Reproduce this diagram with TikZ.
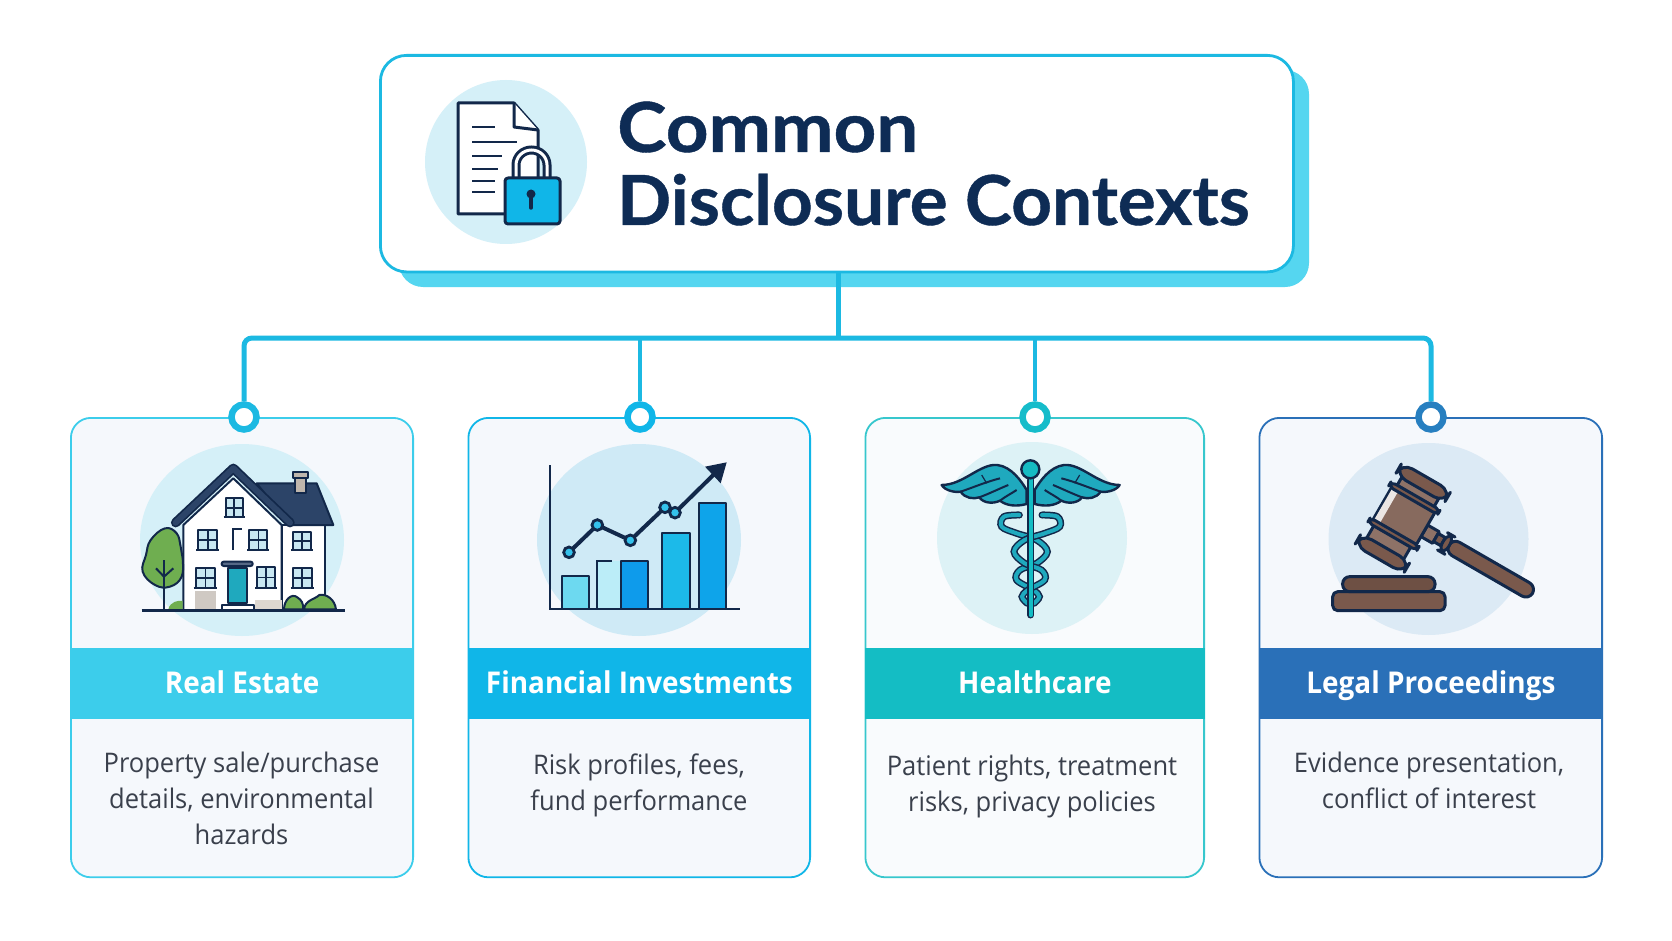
\documentclass[tikz,border=0pt]{standalone}
\usepackage{fontspec}
\setmainfont{Open Sans}[FakeStretch=0.945]
\newfontfamily\titlefont{Lato}[FakeBold=0.6,FakeStretch=1.03]
\newfontfamily\titlefontB{Lato}[FakeBold=0.6,FakeStretch=1.08]
\newfontfamily\labelfont{Open Sans}[FakeStretch=0.93]
\usetikzlibrary{calc}
\definecolor{ink}{HTML}{12284A}
\definecolor{titleink}{HTML}{0E2C55}
\definecolor{bodyink}{HTML}{3A404C}
\definecolor{cardfill}{HTML}{F5F8FC}
\definecolor{cardfillC}{HTML}{F9FBFD}
\definecolor{cA}{HTML}{3CCDEB}
\definecolor{cB}{HTML}{10B6E8}
\definecolor{cC}{HTML}{14BDC4}
\definecolor{cD}{HTML}{2A70B8}
\definecolor{circA}{HTML}{D5F0F8}
\definecolor{circB}{HTML}{CFEAF6}
\definecolor{circC}{HTML}{DDF2F6}
\definecolor{circD}{HTML}{DCEAF5}
\definecolor{conn}{HTML}{1CB9E2}
\definecolor{offsetcol}{HTML}{55D6F0}
\definecolor{navy}{HTML}{2C4468}
\definecolor{leaf}{HTML}{6FAE50}
\definecolor{glass}{HTML}{C9E8F2}
\definecolor{teal}{HTML}{1FA9BE}
\definecolor{wood}{HTML}{7A594C}
\tikzset{
  cardbox/.style={draw=#1,line width=1.8pt,rounded corners=20pt,inner sep=0pt},
  bandbox/.style={fill=#1,inner sep=0pt,text=white,text height=21pt,text depth=2pt,font=\labelfont\bfseries\fontsize{30}{30}\selectfont},
  bodytext/.style={text=bodyink,align=center,inner sep=0pt,font=\fontsize{27}{36}\selectfont},
  ringnode/.style={circle,draw=#1,fill=white,line width=6.5pt,minimum size=25pt,inner sep=0pt},
  connline/.style={draw=conn,line width=5pt},
  dropline/.style={draw=conn,line width=4.4pt},
  outl/.style={draw=ink,line width=2pt,line join=round},
  heavy/.style={draw=ink,line width=3pt,line join=round},
  titletext/.style={anchor=base west,inner sep=0pt,text=titleink,font=\bfseries\fontsize{69}{72}\selectfont},
  zoomed/.style={x=0.33333pt,y=-0.33333pt}
}
\newcommand{\hwin}[4]{%
  \draw[outl,fill=glass] (#1,#2) rectangle (#3,#4);
  \draw[ink,line width=1.5pt] ({(#1+#3)/2},#2) -- ({(#1+#3)/2},#4) (#1,{(#2+#4)/2}) -- (#3,{(#2+#4)/2});
  \draw[ink,line width=2.2pt] ({#1-6},#4) -- ({#3+6},#4);
}
\newcommand{\mkcard}[9]{% name, left, right, colour, circle colour, circle cx, circle cy, rx, fill
  \node[cardbox=#4,fill=#9,minimum width={(#3-#2-0.8)*1pt},minimum height=459.4pt,anchor=north west] (card#1) at (#2,417) {};
  \fill[#5] (#6,#7) ellipse ({#8} and 96);
}
\begin{document}
\begin{tikzpicture}[x=1pt,y=-1pt]
\useasboundingbox (0,0) rectangle (1672,941);
\fill[white] (0,0) rectangle (1672,941);
% title
\fill[offsetcol,rounded corners=24pt] (399,70) rectangle (1309,287);
\node[draw=conn,line width=2.8pt,fill=white,rounded corners=26pt,minimum width=913pt,minimum height=216.5pt,inner sep=0pt,anchor=north west] (title) at (379,54) {};
\fill[circA] (506,162) ellipse (81 and 82);
% document icon
\draw[heavy,fill=white] (458,103) -- (514,103) -- (538,130) -- (538,214) -- (458,214) -- cycle;
\draw[heavy,fill=white] (514,103) -- (514,127) -- (538,130);
\foreach \ya/\xb in {127/495,142/517,156/502,169/498,181/495,192/495}
  \draw[ink,line width=2.4pt] (472,\ya) -- (\xb,\ya);
% padlock
\draw[ink,line width=9pt] (516,182) -- (516,165) arc[start angle=180,end angle=360,x radius=15.5,y radius=15] -- (547,182);
\draw[white,line width=3pt] (516,182) -- (516,165) arc[start angle=180,end angle=360,x radius=15.5,y radius=15] -- (547,182);
\draw[heavy,fill=cB,rounded corners=3pt] (505,178) rectangle (560,224);
\fill[ink] (531,194) circle (4.5);
\draw[ink,line width=3.5pt,line cap=round] (531,195) -- (531,208);
\node[titletext,font=\titlefontB\bfseries\fontsize{69}{72}\selectfont] (t1) at (617,152) {Common};
\node[titletext,font=\titlefont\bfseries\fontsize{69}{72}\selectfont] (t2) at (617,225) {Disclosure Contexts};
% cards
\mkcard{A}{70}{413}{cA}{circA}{242}{540}{102}{cardfill}
\mkcard{B}{467.5}{810}{cB}{circB}{639}{540}{102}{cardfill}
\mkcard{C}{864.5}{1204}{cC!85!white}{circC}{1032}{538}{95}{cardfillC}
\mkcard{D}{1258.5}{1602}{cD}{circD}{1428.5}{539}{100}{cardfill}
% bands
\node[bandbox=cA,minimum width=344pt,minimum height=71pt,anchor=north west] (bandA) at (70,648) {Real Estate};
\node[bandbox=cB,minimum width=343.5pt,minimum height=71pt,anchor=north west] (bandB) at (467.5,648) {Financial Investments};
\node[bandbox=cC,minimum width=340.5pt,minimum height=71pt,anchor=north west] (bandC) at (864.5,648) {Healthcare};
\node[bandbox=cD,minimum width=344.5pt,minimum height=71pt,anchor=north west] (bandD) at (1258.5,648) {Legal Proceedings};
% body text
\node[bodytext] (txtA) at (241.5,798) {Property sale/purchase\\details, environmental\\hazards};
\node[bodytext] (txtB) at (639,785) {Risk profiles, fees,\\fund performance};
\node[bodytext] (txtC) at (1032,786.5) {Patient rights, treatment\\risks, privacy policies};
\node[bodytext] (txtD) at (1429,780.5) {Evidence presentation,\\conflict of interest};
% connectors
\coordinate (bus) at (838,338);
\node[ringnode=conn] (ringA) at (244,417) {};
\node[ringnode=cB] (ringB) at (640,417) {};
\node[ringnode=cC!80!conn] (ringC) at (1035,417) {};
\node[ringnode=cD!80!conn] (ringD) at (1431,417) {};
\draw[connline] (title.south -| bus) -- (bus);
\draw[connline,rounded corners=8pt] (ringA.north) |- (bus) -| (ringD.north);
\draw[dropline] (ringB.north) -- (ringB.north |- bus);
\draw[dropline] (ringC.north) -- (ringC.north |- bus);
% house
\begin{scope}[shift={(60,400)},zoomed]
  \draw[outl,fill=white] (665,375) rectangle (795,631);
  \draw[outl,fill=navy] (590,250) -- (770,250) -- (820,375) -- (690,375) -- cycle;
  \draw[outl,fill=white] (370,375) -- (520,235) -- (665,375) -- (665,631) -- (370,631) -- cycle;
  \draw[outl,fill=black!25!white!85!brown] (705,232) rectangle (738,278);
  \draw[outl,fill=black!25!white!85!brown] (698,217) rectangle (745,234);
  \draw[ink,line width=9.5pt,line cap=round,line join=round] (347,368) -- (520,205) -- (690,368);
  \draw[navy,line width=6pt,line cap=round,line join=round] (347,368) -- (520,205) -- (690,368);
  \fill[black!18!white!90!brown] (405,572) rectangle (468,628);
  \fill[black!12!white!90!brown] (585,600) rectangle (665,628);
  \hwin{497}{295}{548}{352}
  \hwin{415}{390}{472}{450}
  \hwin{568}{390}{622}{450}
  \hwin{700}{395}{752}{450}
  \hwin{407}{503}{465}{565}
  \hwin{592}{500}{645}{565}
  \hwin{698}{503}{755}{565}
  \draw[ink,line width=2pt] (520,450) -- (520,388) -- (545,388);
  \draw[outl,fill=teal] (505,505) rectangle (560,608);
  \draw[outl,fill=navy!80!white,rounded corners=2pt] (485,485) rectangle (578,498);
  \draw[outl,fill=white] (487,615) rectangle (583,630);
  \draw[outl,fill=leaf] plot[smooth cycle,tension=0.7] coordinates {(315,385) (350,400) (362,440) (368,475) (365,530) (330,560) (285,555) (248,515) (258,465) (272,420)};
  \draw[ink,line width=2.6pt] (312,480) -- (312,631);
  \draw[ink,line width=2pt] (288,505) -- (312,530) -- (340,505);
  \draw[outl,fill=leaf] (672,628) .. controls (672,600) and (695,578) .. (712,592) .. controls (725,600) and (730,610) .. (730,628) -- cycle;
  \draw[outl,fill=leaf] (732,628) .. controls (735,600) and (765,598) .. (778,585) .. controls (800,580) and (825,600) .. (828,628) -- cycle;
  \fill[leaf] (325,628) .. controls (330,605) and (355,600) .. (368,603) -- (368,628) -- cycle;
  \draw[ink,line width=2.4pt] (245,631) -- (855,631);
\end{scope}
% chart
\begin{scope}[shift={(460,400)},zoomed]
  \draw[outl,fill=cA!75!white] (307,628) rectangle (388,528);
  \fill[cA!35!white] (412,482) rectangle (480,628);
  \draw[ink,line width=2pt] (412,628) -- (412,482) -- (455,482);
  \draw[outl,fill=cB!85!blue] (482,628) rectangle (564,482);
  \draw[outl,fill=cB!95!white] (606,628) rectangle (690,400);
  \draw[outl,fill=cB!90!blue] (716,628) rectangle (797,310);
  \draw[ink,line width=2.2pt] (269,195) -- (269,628) -- (840,628);
  \draw[ink,line width=4pt,line join=round] (327,457) -- (412,375) -- (511,421) -- (615,322) -- (645,338) -- (770,215);
  \fill[ink] (735,200) -- (800,187) -- (782,250) -- cycle;
  \foreach \px/\py in {327/457,412/375,511/421,615/322,645/338}
    \draw[ink,line width=2.8pt,fill=cB!85!white] (\px,\py) circle (16);
\end{scope}
% caduceus
\begin{scope}[shift={(860,400)},zoomed]
  \foreach \s in {1,-1}{
  \begin{scope}[shift={(512,0)},xscale=\s,shift={(-512,0)}]
    \draw[heavy,line width=2.4pt,fill=teal] (245,255) .. controls (310,255) and (360,190) .. (412,195) .. controls (455,200) and (485,245) .. (500,270) -- (500,312) .. controls (470,320) and (440,318) .. (420,302) .. controls (400,312) and (370,310) .. (358,292) .. controls (340,298) and (315,295) .. (302,275) .. controls (285,278) and (255,272) .. (245,255) -- cycle;
    \draw[ink,line width=2pt] (302,275) .. controls (340,262) and (380,245) .. (420,235);
    \draw[ink,line width=2pt] (358,292) .. controls (390,280) and (420,265) .. (445,255);
    \draw[ink,line width=2pt] (420,302) .. controls (435,290) and (455,280) .. (470,270);
    \draw[ink,line width=1.2pt] (365,225) -- (380,250);
    \draw[ink,line width=7pt,line cap=round] plot[smooth,tension=0.6] coordinates {(478,345) (432,350) (425,380) (470,400) (530,420) (562,455) (530,490) (480,510) (470,540) (520,570) (538,590) (522,610)};
    \draw[teal,line width=4pt,line cap=round] plot[smooth,tension=0.6] coordinates {(478,345) (432,350) (425,380) (470,400) (530,420) (562,455) (530,490) (480,510) (470,540) (520,570) (538,590) (522,610)};
  \end{scope}}
  \draw[ink,line width=7pt,line cap=round] (512,240) -- (512,645);
  \draw[cC,line width=4.2pt,line cap=round] (512,240) -- (512,645);
  \draw[heavy,line width=2.4pt,fill=cC!90!teal] (511,208) circle (27);
\end{scope}
% gavel
\begin{scope}[shift={(1250,400)},zoomed]
  \draw[heavy,fill=wood,rounded corners=5pt] (248,632) -- (248,575) -- (585,575) -- (585,632) -- cycle;
  \draw[heavy,fill=wood!90!black,rounded corners=7pt] (278,575) -- (278,530) -- (555,530) -- (555,575) -- cycle;
  \begin{scope}[shift={(458,355)},rotate=-30]
    \draw[heavy,fill=wood,rounded corners=8pt] (160,-23) rectangle (450,23);
    \draw[heavy,fill=wood!85!white] (75,-20) rectangle (115,20);
    \draw[heavy,fill=wood] (115,-14) rectangle (140,14);
    \draw[heavy,fill=wood,rounded corners=8pt] (140,-30) rectangle (162,30);
    \draw[heavy,fill=wood!85!white] (-64,-105) rectangle (64,105);
    \draw[heavy,fill=wood,rounded corners=12pt] (-85,-143) rectangle (85,-103);
    \draw[heavy,fill=wood,rounded corners=12pt] (-85,102) rectangle (85,142);
    \draw[heavy,fill=wood!90!white] (-75,-70) rectangle (75,55);
    \fill[white!85!wood] (-72,-62) rectangle (-52,48);
    \draw[heavy,fill=wood,rounded corners=5pt] (-85,-78) rectangle (85,-62);
    \draw[heavy,fill=wood,rounded corners=5pt] (-85,47) rectangle (85,63);
  \end{scope}
\end{scope}
\end{tikzpicture}
\end{document}
